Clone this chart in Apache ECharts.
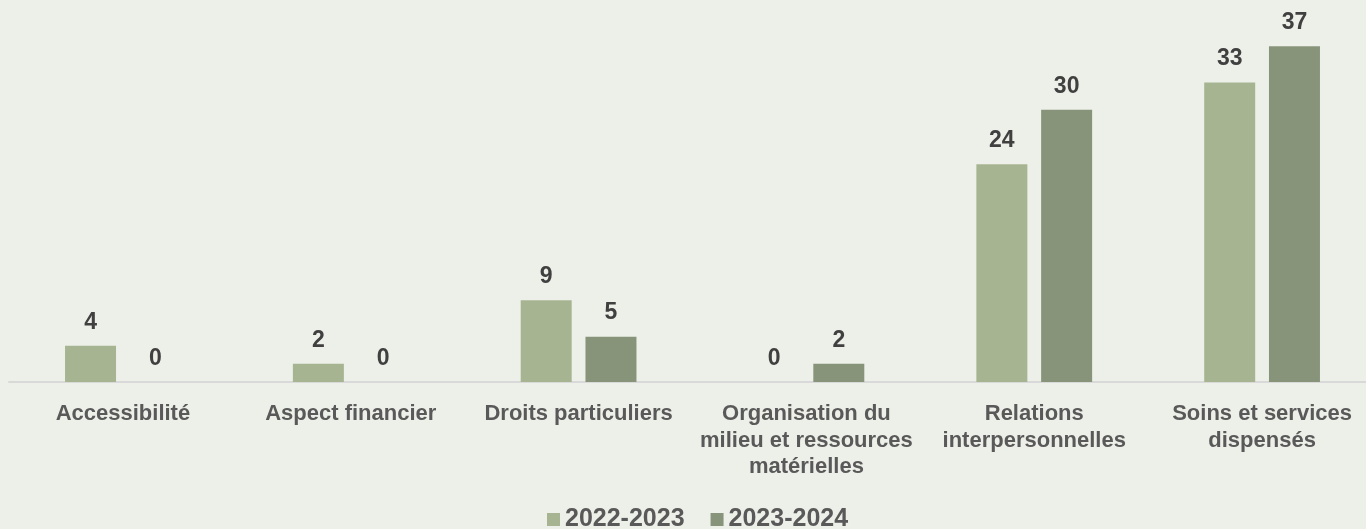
<!DOCTYPE html>
<html>
<head>
<meta charset="utf-8">
<script src="https://cdn.jsdelivr.net/npm/echarts@6/dist/echarts.min.js"></script>
<style>
  html, body { margin: 0; padding: 0; background: #EDF0E9; overflow: hidden; }
  #chart { width: 1380px; height: 529px; }
</style>
</head>
<body>
<div id="chart"></div>
<script>
// Plaintes par motif, deux exercices
const categories = [
  'Accessibilité',
  'Aspect financier',
  'Droits particuliers',
  'Organisation du\nmilieu et ressources\nmatérielles',
  'Relations\ninterpersonnelles',
  'Soins et services\ndispensés'
];
const seriesNames = ['2022-2023', '2023-2024'];
const values2022 = [4, 2, 9, 0, 24, 33];
const values2023 = [0, 0, 5, 2, 30, 37];

const FONT = '"Liberation Sans", Arial, sans-serif';
const colors = ['#A6B492', '#87947A'];

const chart = echarts.init(document.getElementById('chart'), null, { renderer: 'canvas' });

function barSeries(name, data, color) {
  return {
    name: name,
    type: 'bar',
    data: data,
    barWidth: 51,
    barGap: '27%',
    itemStyle: { color: color },
    label: {
      show: true,
      position: 'top',
      distance: 12,
      color: '#404040',
      fontFamily: FONT,
      fontWeight: 'bold',
      fontSize: 23
    }
  };
}

chart.setOption({
  backgroundColor: '#EDF0E9',
  animation: false,
  color: colors,
  // the plot runs slightly past the visible right edge
  grid: { left: 9, width: 1367, top: 19, height: 363, containLabel: false },
  xAxis: {
    type: 'category',
    data: categories,
    axisLine: { show: true, lineStyle: { color: '#D9D9D9', width: 2 } },
    axisTick: { show: false },
    axisLabel: {
      interval: 0,
      margin: 19,
      color: '#595959',
      fontFamily: FONT,
      fontWeight: 'bold',
      fontSize: 22,
      lineHeight: 26.5
    }
  },
  yAxis: {
    type: 'value',
    min: 0,
    max: 40,
    show: false,
    splitLine: { show: false }
  },
  legend: {
    data: seriesNames,
    top: 502,
    left: 542,
    itemWidth: 13,
    itemHeight: 13,
    itemGap: 26,
    icon: 'rect',
    textStyle: {
      color: '#595959',
      fontFamily: FONT,
      fontWeight: 'bold',
      fontSize: 25
    }
  },
  series: [
    barSeries(seriesNames[0], values2022, colors[0]),
    barSeries(seriesNames[1], values2023, colors[1])
  ]
});
</script>
</body>
</html>
